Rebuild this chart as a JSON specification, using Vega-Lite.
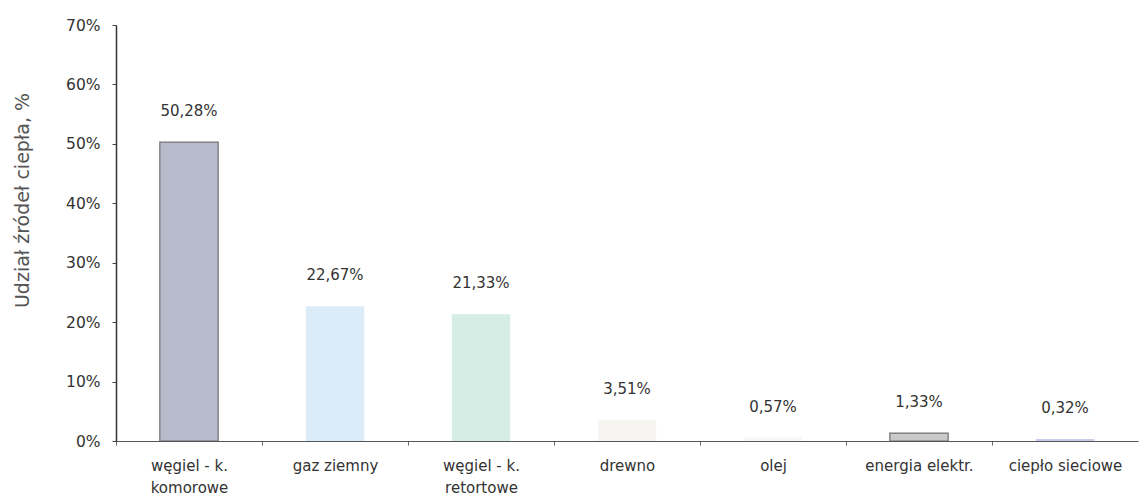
{
  "$schema": "https://vega.github.io/schema/vega-lite/v6.json",
  "width": 1022,
  "height": 416,
  "autosize": "none",
  "padding": {"left": 116, "top": 25, "right": 1, "bottom": 56},
  "background": "white",
  "config": {
    "view": {"stroke": null},
    "axis": {"grid": false}
  },
  "data": {
    "values": [
      {"zrodlo": "węgiel - k. komorowe", "udzial": 0.5028},
      {"zrodlo": "gaz ziemny", "udzial": 0.2267},
      {"zrodlo": "węgiel - k. retortowe", "udzial": 0.2133},
      {"zrodlo": "drewno", "udzial": 0.0351},
      {"zrodlo": "olej", "udzial": 0.0057},
      {"zrodlo": "energia elektr.", "udzial": 0.0133},
      {"zrodlo": "ciepło sieciowe", "udzial": 0.0032}
    ]
  },
  "encoding": {
    "x": {
      "field": "zrodlo",
      "type": "nominal",
      "sort": null,
      "scale": {"paddingInner": 0, "paddingOuter": 0},
      "axis": {
        "title": null,
        "labelAngle": 0,
        "labelFont": "DejaVu Sans",
        "labelFontSize": 15,
        "labelColor": "#333333",
        "labelPadding": 13,
        "labelLineHeight": 22,
        "labelExpr": "indexof(datum.label, 'k. ') > 0 ? [slice(datum.label, 0, indexof(datum.label, 'k. ') + 2), slice(datum.label, indexof(datum.label, 'k. ') + 3)] : datum.label",
        "tickOffset": -73,
        "labelOffset": 73,
        "tickSize": 4,
        "tickColor": "#666666",
        "domainColor": "#555555",
        "domainWidth": 1.2
      }
    },
    "y": {
      "field": "udzial",
      "type": "quantitative",
      "scale": {"domain": [0, 0.7], "nice": false},
      "axis": {
        "title": "Udział źródeł ciepła, %",
        "titleFont": "DejaVu Sans",
        "titleFontSize": 19,
        "titleFontWeight": "normal",
        "titleColor": "#555555",
        "titlePadding": 33,
        "titleY": 175,
        "format": ".0%",
        "values": [0, 0.1, 0.2, 0.3, 0.4, 0.5, 0.6, 0.7],
        "labelFont": "DejaVu Sans",
        "labelFontSize": 15.5,
        "labelColor": "#333333",
        "labelPadding": 12,
        "tickSize": 4,
        "tickColor": "#444444",
        "domainColor": "#333333",
        "domainWidth": 1.5
      }
    }
  },
  "layer": [
    {
      "mark": {"type": "bar", "width": {"band": 0.4}, "strokeWidth": 1.2, "stroke": "#555555"},
      "encoding": {
        "color": {
          "field": "zrodlo",
          "type": "nominal",
          "legend": null,
          "scale": {
            "domain": ["węgiel - k. komorowe", "gaz ziemny", "węgiel - k. retortowe", "drewno", "olej", "energia elektr.", "ciepło sieciowe"],
            "range": ["#b8bbcc", "#dcebf8", "#d5ede5", "#f6f5f1", "#f7f7f7", "#cacaca", "#c8cdee"]
          }
        },
        "strokeOpacity": {
          "condition": {"test": "datum.zrodlo === 'węgiel - k. komorowe' || datum.zrodlo === 'energia elektr.'", "value": 0.8},
          "value": 0
        }
      }
    },
    {
      "mark": {
        "type": "text",
        "baseline": "middle",
        "dy": -31,
        "font": "DejaVu Sans",
        "fontSize": 15,
        "color": "#333333",
        "text": {"expr": "replace(format(datum.udzial, '.2%'), '.', ',')"}
      },
      "encoding": {}
    }
  ]
}
